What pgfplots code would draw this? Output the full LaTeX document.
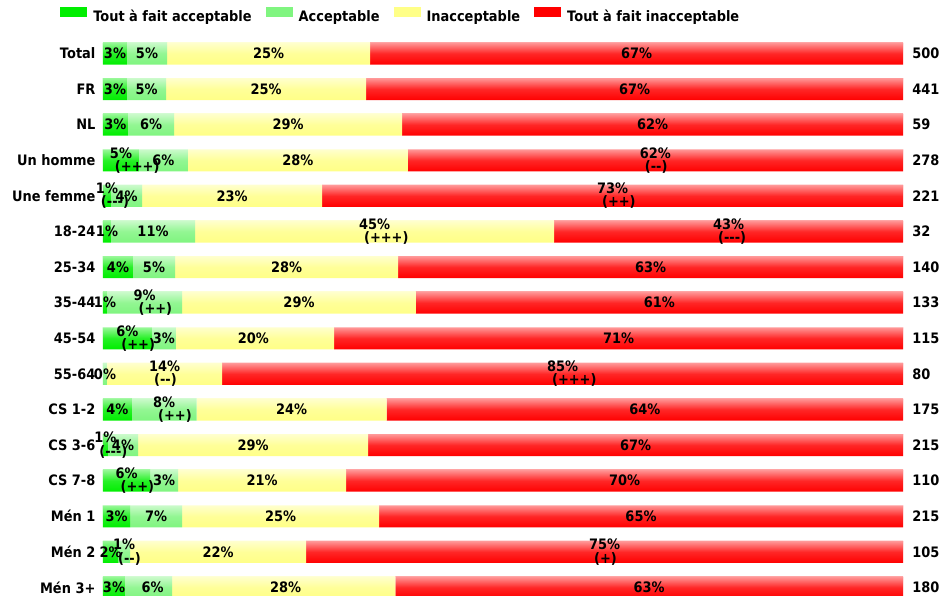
\documentclass[border=0pt]{standalone}
\usepackage{pgfplots}
\pgfplotsset{compat=1.18}
\usetikzlibrary{fadings}
\usepackage{fontspec}
\setmainfont{DejaVu Sans}[FakeStretch=0.9]
\definecolor{dgreen}{RGB}{0,238,0}
\definecolor{lgreen}{RGB}{128,245,128}
\definecolor{yel}{RGB}{255,255,135}
\definecolor{rd}{RGB}{255,0,0}
\tikzfading[name=barfade, top color=transparent!40, bottom color=transparent!100, middle color=transparent!85]
\protected\def\one#1{#1\%}
\protected\def\two#1#2{#1\%\\\makebox[0pt][l]{\hspace*{3.75pt}(#2)}}
\protected\def\h{\mbox{-}}
\newcommand\lblfont{\fontsize{10.8}{10}\selectfont\bfseries}
\pgfplotsset{
  legimg/.style={legend image code/.code={\path[##1] (0pt,0pt) rectangle (20.25pt,7.5pt); \path (24.75pt,0pt);}},
  common/.style={at={(0pt,0pt)}, anchor=south west, scale only axis, width=600pt, height=427.2pt,
    xmin=0, xmax=100, ymin=-0.5, ymax=15.5, y dir=reverse},
}
\begin{document}
\begin{tikzpicture}
\useasboundingbox (-77.25pt,7.75pt) rectangle (630.75pt,454pt);
\begin{axis}[common,
  xbar stacked, bar width=16.5pt,
  axis x line=none, axis y line*=left, y axis line style={draw=none},
  major tick length=0pt,
  ytick={0,...,15}, ytick style={draw=none},
  yticklabels={Total,FR,NL,Un homme,Une femme,18-24,25-34,35-44,45-54,55-64,CS 1-2,CS 3-6,CS 7-8,Mén 1,Mén 2,Mén 3+},
  yticklabel style={font=\lblfont, inner sep=0pt, xshift=-5.5pt, anchor=east},
  legend columns=-1,
  legend style={at={(-0.05375,1.0364)}, anchor=west, draw=none, fill=none, inner sep=0pt, font=\lblfont,
    nodes={inner sep=0pt}, /tikz/every even column/.append style={column sep=10.5pt}},
]
\addplot[draw=none, fill=dgreen, legimg] coordinates {
(3.0,0) (3.0,1) (3.1,2) (4.5,3) (1.0,4) (1.0,5) (3.75,6) (0.5,7) (6.1,8) (0,9) (3.6,10) (0.6,11) (5.9,12) (3.4,13) (1.9,14) (2.75,15)};
\addlegendentry{Tout à fait acceptable}
\addplot[draw=none, fill=lgreen, legimg] coordinates {
(5.0,0) (4.9,1) (5.8,2) (6.1,3) (3.9,4) (10.5,5) (5.25,6) (9.4,7) (3.0,8) (0.5,9) (8.1,10) (3.8,11) (3.5,12) (6.5,13) (1.5,14) (5.9,15)};
\addlegendentry{Acceptable}
\addplot[draw=none, fill=yel, legimg] coordinates {
(25.4,0) (25.0,1) (28.5,2) (27.5,3) (22.5,4) (44.9,5) (27.9,6) (29.2,7) (19.8,8) (14.4,9) (23.75,10) (28.75,11) (21.0,12) (24.6,13) (22.0,14) (27.9,15)};
\addlegendentry{Inacceptable}
\addplot[draw=none, fill=rd, legimg] coordinates {
(66.6,0) (67.1,1) (62.6,2) (61.9,3) (72.6,4) (43.6,5) (63.1,6) (60.9,7) (71.1,8) (85.1,9) (64.55,10) (66.85,11) (69.6,12) (65.5,13) (74.6,14) (63.45,15)};
\addlegendentry{Tout à fait inacceptable}
\end{axis}
\begin{axis}[common, hide axis, clip=false]
% gloss: white highlight fading towards the bottom of each bar row
\pgfplotsinvokeforeach{0,...,15}{
  \addplot[xbar, bar width=16.5pt, draw=none, fill=white, path fading=barfade, forget plot] coordinates {(100,#1)};
}
\addplot[draw=none, mark=none, nodes near coords, nodes near coords align={center}, point meta=explicit symbolic,
  every node near coord/.append style={font=\lblfont, align=left, inner sep=0pt, text=black}] coordinates {
(1.5,0) [\one{3}] (5.5,0) [\one{5}] (20.7,0) [\one{25}] (66.7,0) [\one{67}]
(1.5,1) [\one{3}] (5.45,1) [\one{5}] (20.4,1) [\one{25}] (66.45,1) [\one{67}]
(1.55,2) [\one{3}] (6.0,2) [\one{6}] (23.15,2) [\one{29}] (68.7,2) [\one{62}]
(2.25,3) [\two{5}{+++}] (7.55,3) [\one{6}] (24.35,3) [\one{28}] (69.05,3) [\two{62}{\h\h}]
(0.5,4) [\two{1}{\h\h\h}] (2.95,4) [\one{4}] (16.15,4) [\one{23}] (63.7,4) [\two{73}{++}]
(0.5,5) [\one{1}] (6.25,5) [\one{11}] (33.95,5) [\two{45}{+++}] (78.2,5) [\two{43}{\h\h\h}]
(1.875,6) [\one{4}] (6.375,6) [\one{5}] (22.95,6) [\one{28}] (68.45,6) [\one{63}]
(0.25,7) [\one{1}] (5.2,7) [\two{9}{++}] (24.5,7) [\one{29}] (69.55,7) [\one{61}]
(3.05,8) [\two{6}{++}] (7.6,8) [\one{3}] (18.8,8) [\one{20}] (64.45,8) [\one{71}]
(0.25,9) [\one{0}] (7.7,9) [\two{14}{\h\h}] (57.45,9) [\two{85}{+++}]
(1.8,10) [\one{4}] (7.65,10) [\two{8}{++}] (23.575,10) [\one{24}] (67.725,10) [\one{64}]
(0.3,11) [\two{1}{\h\h\h}] (2.5,11) [\one{4}] (18.775,11) [\one{29}] (66.575,11) [\one{67}]
(2.95,12) [\two{6}{++}] (7.65,12) [\one{3}] (19.9,12) [\one{21}] (65.2,12) [\one{70}]
(1.7,13) [\one{3}] (6.65,13) [\one{7}] (22.2,13) [\one{25}] (67.25,13) [\one{65}]
(0.95,14) [\one{2}] (2.65,14) [\two{1}{\h\h}] (14.4,14) [\one{22}] (62.7,14) [\two{75}{+}]
(1.375,15) [\one{3}] (6.2,15) [\one{6}] (22.825,15) [\one{28}] (68.275,15) [\one{63}]
};
\addplot[draw=none, mark=none, nodes near coords, nodes near coords align={west}, point meta=explicit symbolic,
  every node near coord/.append style={font=\lblfont, inner sep=0pt, xshift=6.75pt, text=black}] coordinates {
(100,0) [500] (100,1) [441] (100,2) [59] (100,3) [278] (100,4) [221] (100,5) [32] (100,6) [140] (100,7) [133]
(100,8) [115] (100,9) [80] (100,10) [175] (100,11) [215] (100,12) [110] (100,13) [215] (100,14) [105] (100,15) [180]
};
\end{axis}
\end{tikzpicture}
\end{document}
